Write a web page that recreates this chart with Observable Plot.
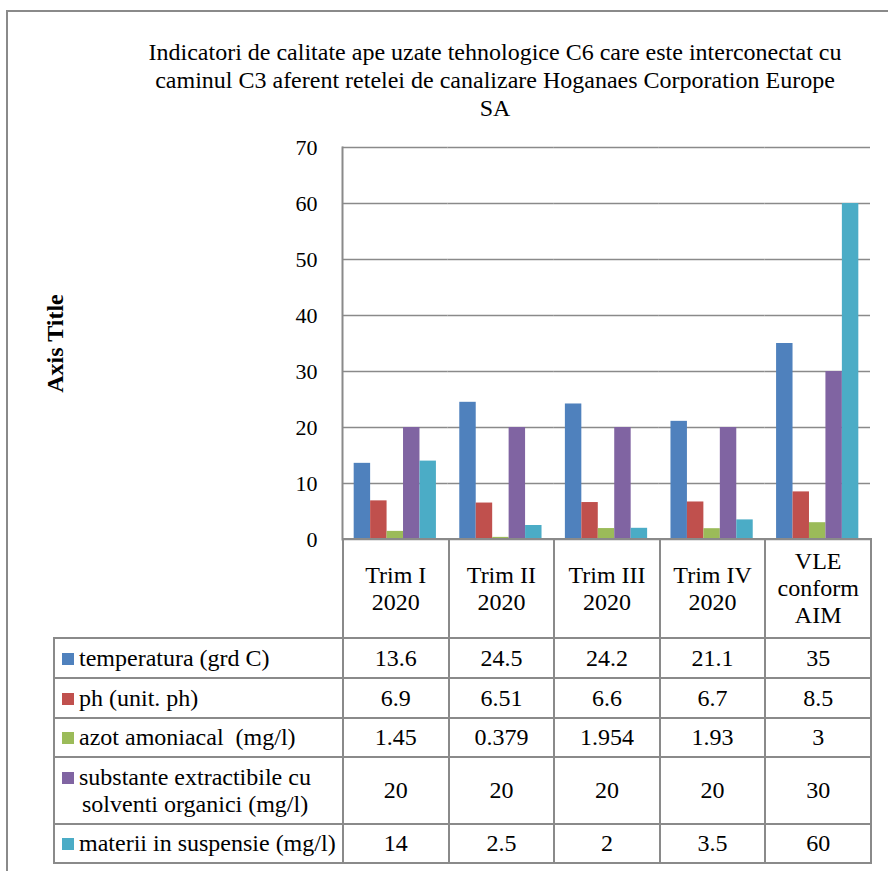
<!DOCTYPE html>
<html>
<head>
<meta charset="utf-8">
<script src="https://cdn.jsdelivr.net/npm/d3@7"></script>
<script src="https://cdn.jsdelivr.net/npm/@observablehq/plot@0.6"></script>
<style>
  html, body { margin: 0; padding: 0; background: #fff; }
  #wrap { position: relative; width: 888px; height: 871px; overflow: hidden; font-family: "Liberation Serif", "Times New Roman", serif; color: #000; }
  #frame { position: absolute; left: 6px; top: 10px; width: 1000px; height: 1000px; border-left: 2px solid #8a8a8a; border-top: 2px solid #8a8a8a; }
  #title { position: absolute; left: 95px; width: 800px; top: 38px; text-align: center; font-size: 24px; line-height: 28px; font-family: "Liberation Serif", serif; }
  #chart { position: absolute; left: 0; top: 0; }
  #chart svg [aria-label="y-axis label"] text { font-weight: bold; font-size: 24px; }
  #tbl { position: absolute; left: 53px; top: 538px; border-collapse: collapse; font-size: 24px; table-layout: fixed; font-family: "Liberation Serif", serif; }
  #tbl td { border: 2px solid #8a8a8a; padding: 0; text-align: center; vertical-align: middle; line-height: 27px; white-space: nowrap; }
  #tbl td.blank { border-top: none; border-left: none; border-bottom: 2px solid #8a8a8a; }
  #tbl td.lab { text-align: left; padding-left: 7px; }
  #tbl td.lab .sw { display: inline-block; width: 12px; height: 12px; margin-right: 5px; vertical-align: 1px; }
  #tbl td.lab .txt { display: inline-block; vertical-align: top; }
  #tbl td.lab .txt span.l2 { padding-left: 3px; }
</style>
</head>
<body>
<div id="wrap">
  <div id="frame"></div>
  <div id="chart"></div>
  <div id="title"></div>
  <table id="tbl"></table>
</div>
<script>
// ---- data ----
const titleLines = [
  "Indicatori de calitate ape uzate tehnologice C6 care este interconectat cu",
  "caminul C3 aferent retelei de canalizare Hoganaes Corporation Europe",
  "SA"
];
const yAxisTitle = "Axis Title";
const categories = ["Trim I 2020", "Trim II 2020", "Trim III 2020", "Trim IV 2020", "VLE conform AIM"];
const categoryLines = [["Trim I", "2020"], ["Trim II", "2020"], ["Trim III", "2020"], ["Trim IV", "2020"], ["VLE", "conform", "AIM"]];
const seriesNames = [
  "temperatura (grd C)",
  "ph (unit. ph)",
  "azot amoniacal  (mg/l)",
  "substante extractibile cu solventi organici (mg/l)",
  "materii in suspensie (mg/l)"
];
const seriesLabelLines = [
  ["temperatura (grd C)"],
  ["ph (unit. ph)"],
  ["azot amoniacal\u00a0\u00a0(mg/l)"],
  ["substante extractibile cu", "solventi organici (mg/l)"],
  ["materii in suspensie (mg/l)"]
];
const temperatura = [13.6, 24.5, 24.2, 21.1, 35];
const ph = [6.9, 6.51, 6.6, 6.7, 8.5];
const azot = [1.45, 0.379, 1.954, 1.93, 3];
const substante = [20, 20, 20, 20, 30];
const materii = [14, 2.5, 2, 3.5, 60];
const seriesValues = [temperatura, ph, azot, substante, materii];
const seriesColors = ["#4F81BD", "#C0504D", "#9BBB59", "#8064A2", "#4BACC6"];
const yTicks = [0, 10, 20, 30, 40, 50, 60, 70];
const rowHeights = [40, 40, 39, 67, 39];

// ---- title ----
document.getElementById("title").innerHTML = titleLines.join("<br>");

// ---- chart ----
const rows = [];
categories.forEach((c, i) => seriesNames.forEach((s, j) => rows.push({cat: c, series: s, value: seriesValues[j][i]})));

const chart = Plot.plot({
  width: 888,
  height: 871,
  marginLeft: 342,
  marginRight: 18,
  marginTop: 147,
  marginBottom: 332,
  style: {fontFamily: '"Liberation Serif", "Times New Roman", serif', fontSize: "22px", color: "#000", background: "transparent"},
  fx: {domain: categories, axis: null, paddingInner: 0, paddingOuter: 0, round: false},
  x: {domain: seriesNames, axis: null, paddingInner: 0, paddingOuter: 0.71, round: false},
  y: {domain: [0, 70]},
  color: {domain: seriesNames, range: seriesColors},
  marks: [
    Plot.ruleY(yTicks, {stroke: "#8a8a8a", strokeWidth: 1.6}),
    Plot.frame({anchor: "left", facetAnchor: "left", stroke: "#8a8a8a", strokeWidth: 2}),
    Plot.barY(rows, {fx: "cat", x: "series", y: "value", fill: "series"}),
    Plot.axisY(yTicks, {tickSize: 0, tickPadding: 25, fontSize: 22, fill: "#000", tickFormat: d => String(d),
      label: yAxisTitle, labelAnchor: "center", labelOffset: 297, labelArrow: false})
  ]
});
document.getElementById("chart").appendChild(chart);

// ---- data table ----
const tbl = document.getElementById("tbl");
const colW = (870 - 342) / categories.length;
const cg = document.createElement("colgroup");
[289, ...categories.map(() => colW)].forEach(w => { const col = document.createElement("col"); col.style.width = w + "px"; cg.appendChild(col); });
tbl.appendChild(cg);
const hr = document.createElement("tr");
hr.style.height = "99px";
const blank = document.createElement("td"); blank.className = "blank"; hr.appendChild(blank);
categoryLines.forEach(lines => { const td = document.createElement("td"); td.innerHTML = lines.join("<br>"); hr.appendChild(td); });
tbl.appendChild(hr);
seriesNames.forEach((s, j) => {
  const tr = document.createElement("tr");
  tr.style.height = rowHeights[j] + "px";
  const lab = document.createElement("td"); lab.className = "lab";
  const txt = seriesLabelLines[j].map((l, k) => `<span class="${k ? "l2" : "l1"}">${l}</span>`).join("<br>");
  lab.innerHTML = `<span class="sw" style="background:${seriesColors[j]}"></span><span class="txt">${txt}</span>`;
  tr.appendChild(lab);
  categories.forEach((c, i) => { const td = document.createElement("td"); td.textContent = String(seriesValues[j][i]); tr.appendChild(td); });
  tbl.appendChild(tr);
});
</script>
</body>
</html>
